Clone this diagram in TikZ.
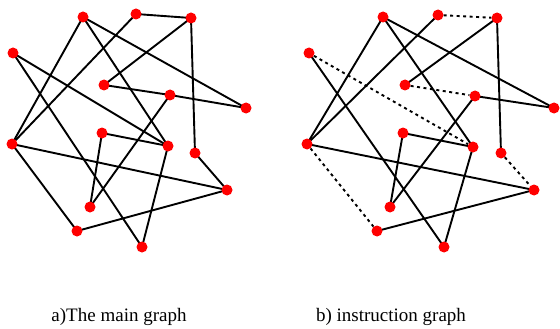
\documentclass[tikz,border=0pt]{standalone}
\usepackage{fontspec}
\setmainfont{Liberation Serif}
\usetikzlibrary{backgrounds}
\begin{document}
\begin{tikzpicture}[x=1pt,y=-1pt,
  vtx/.style={circle,fill=red,inner sep=0pt,minimum size=11pt},
  edge/.style={line width=1.9pt,black},
  dedge/.style={line width=1.9pt,black,dash pattern=on 3pt off 3.5pt},
  captext/.style={font=\fontsize{19}{21}\selectfont,anchor=base}]
\useasboundingbox (0,0) rectangle (560,329);
% graph a
\foreach \n/\x/\y in {A/83/17,B/136/14,C/191/18,D/13/53,E/104/85,F/170/95,G/246/108,H/102/133,I/168/146,J/12/144,K/195/153,L/227/190,M/90/207,N/77/231,O/142/247}
  \node[vtx] (a\n) at (\x,\y) {};
% graph b
\foreach \n/\x/\y in {A/383/17,B/438/15,C/497/18,D/309/53,E/405/85,F/475/96,G/554/108,H/403/133,I/473/147,J/307/144,K/501/153,L/534/190,M/390/207,N/377/231,O/444/247}
  \node[vtx] (b\n) at (\x,\y) {};
\begin{scope}[on background layer]
\foreach \u/\v in {B/C,C/K,K/L,A/J,A/G,A/I,B/J,C/E,D/I,D/O,E/F,F/G,F/M,H/I,H/M,I/O,J/L,J/N,N/L}
  \draw[edge] (a\u.center) -- (a\v.center);
\foreach \u/\v in {C/K,A/J,A/G,A/I,B/J,C/E,D/O,F/G,F/M,H/I,H/M,I/O,J/L,N/L}
  \draw[edge] (b\u.center) -- (b\v.center);
\foreach \u/\v in {B/C,D/I,E/F,K/L,J/N}
  \draw[dedge] (b\u) -- (b\v);
\end{scope}
\node[captext] (capa) at (119,321) {a)The main graph};
\node[captext] (capb) at (391,321) {b) instruction graph};
\end{tikzpicture}
\end{document}
